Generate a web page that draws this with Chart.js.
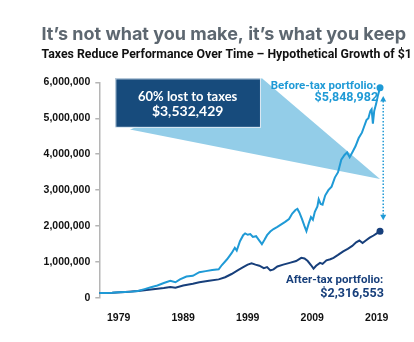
<!DOCTYPE html>
<html>
<head>
<meta charset="utf-8">
<script src="https://cdn.jsdelivr.net/npm/chart.js@4/dist/chart.umd.min.js"></script>
<style>
  html, body { margin: 0; padding: 0; background: #fff; }
</style>
</head>
<body>
<canvas id="taxChart" width="414" height="342"></canvas>
<script>
// values, in millions of dollars
var beforeYears = [1976, 1977, 1978, 1979, 1980, 1981, 1982, 1983, 1984, 1985, 1986, 1987, 1987.8, 1988.5, 1989.5,
  1990.5, 1991.5, 1992.5, 1993.5, 1994.5, 1995, 1995.8, 1996.5, 1997, 1997.3, 1997.8, 1998.3, 1998.6, 1999, 1999.4,
  1999.8, 2000.3, 2000.8, 2001.2, 2001.6, 2002, 2002.5, 2003, 2003.6, 2004.2, 2004.8, 2005.4, 2005.9, 2006.4, 2006.7,
  2007, 2007.4, 2007.8, 2008.1, 2008.5, 2008.8, 2009.1, 2009.4, 2009.8, 2010, 2010.3, 2010.6, 2011, 2011.5, 2012,
  2012.5, 2013, 2013.5, 2014, 2014.4, 2014.8, 2015.2, 2015.7, 2016.2, 2016.7, 2017, 2017.4, 2017.7, 2018, 2018.2,
  2018.4, 2018.6, 2018.9, 2019.2, 2019.5];
var beforeTax = [0.14, 0.145, 0.15, 0.16, 0.17, 0.18, 0.2, 0.25, 0.3, 0.35, 0.42, 0.48, 0.44, 0.52, 0.6,
  0.62, 0.72, 0.75, 0.78, 0.8, 0.92, 1.08, 1.25, 1.4, 1.32, 1.58, 1.75, 1.8, 1.76, 1.78,
  1.7, 1.72, 1.6, 1.5, 1.62, 1.75, 1.85, 1.92, 1.98, 2.05, 2.12, 2.2, 2.35, 2.45, 2.48,
  2.38, 2.2, 2.0, 1.86, 2.1, 2.25, 2.18, 2.4, 2.55, 2.75, 2.62, 2.6, 2.85, 3.0, 3.1,
  3.35, 3.5, 3.85, 3.98, 4.05, 3.92, 4.05, 4.22, 4.45, 4.6, 4.75, 4.95, 5.0, 5.2, 5.25,
  4.85, 5.2, 5.4, 5.65, 5.85];

var afterYears = [1976, 1978, 1980, 1982, 1984, 1986, 1987, 1987.8, 1989, 1990.5, 1991.5, 1993, 1994.5, 1995.5,
  1996.5, 1997.5, 1998.3, 1999, 1999.6, 2000.2, 2000.8, 2001.5, 2002, 2002.5, 2003, 2003.6, 2004.5, 2005.5,
  2006.5, 2007.3, 2007.8, 2008.3, 2008.8, 2009.2, 2009.6, 2010.2, 2010.6, 2011.2, 2011.8, 2012.3, 2013, 2013.8,
  2014.5, 2015.2, 2015.8, 2016.3, 2016.8, 2017.3, 2017.9, 2018.5, 2019, 2019.5];
var afterTax = [0.14, 0.15, 0.17, 0.2, 0.24, 0.28, 0.31, 0.29, 0.35, 0.4, 0.44, 0.48, 0.52, 0.58,
  0.67, 0.78, 0.86, 0.93, 0.97, 0.93, 0.9, 0.83, 0.86, 0.77, 0.8, 0.88, 0.93, 0.98,
  1.03, 1.12, 1.1, 1.03, 0.92, 0.82, 0.9, 0.98, 0.95, 1.05, 1.08, 1.12, 1.2, 1.3,
  1.37, 1.45, 1.55, 1.6, 1.53, 1.6, 1.68, 1.74, 1.8, 1.86];

var tickYears = [1979, 1989, 1999, 2009, 2019];
var titleText = 'It\u2019s not what you make, it\u2019s what you keep';
var subtitleText = 'Taxes Reduce Performance Over Time \u2013 Hypothetical Growth of $1';
var calloutText = ['60% lost to taxes', '$3,532,429'];
var beforeLabel = ['Before-tax portfolio:', '$5,848,982'];
var afterLabel = ['After-tax portfolio:', '$2,316,553'];

var LIGHT = '#1f9ad6';
var DARK = '#173f7b';
var COND = "Roboto, sans-serif";

function toPoints(xs, ys) {
  return xs.map(function(x, i){ return {x: x, y: ys[i] * 1e6}; });
}

function lastDot(c) {
  return c.dataIndex === c.dataset.data.length - 1 ? 3.5 : 0;
}

// heading runs off the right edge like in the source, so no maxWidth squeeze
var headingPlugin = {
  id: 'heading',
  afterDraw: function(chart) {
    var ctx = chart.ctx;
    ctx.save();
    ctx.textAlign = 'left';
    ctx.textBaseline = 'alphabetic';
    ctx.fillStyle = '#5d6770';
    ctx.font = 'bold 18px Inter, sans-serif';
    ctx.fillText(titleText, 41.5, 40);
    ctx.fillStyle = '#111111';
    ctx.font = 'bold 12.3px ' + COND;
    ctx.fillText(subtitleText, 41.5, 57.5);
    ctx.restore();
  }
};

var calloutPlugin = {
  id: 'callout',
  beforeDatasetsDraw: function(chart) {
    var ctx = chart.ctx;
    var px = function(v){ return chart.scales.x.getPixelForValue(v); };
    var py = function(v){ return chart.scales.y.getPixelForValue(v); };
    ctx.save();
    // wedge pointing at the gap between the two lines
    ctx.fillStyle = '#93cde8';
    ctx.beginPath();
    ctx.moveTo(px(1980.76), py(4.685e6));
    ctx.lineTo(px(2001.21), py(6.11e6));
    ctx.lineTo(px(2019.5), py(3.31e6));
    ctx.closePath();
    ctx.fill();

    var x0 = px(1978.48), x1 = px(2000.9), y0 = py(6.11e6), y1 = py(4.76e6);
    ctx.fillStyle = '#174b7c';
    ctx.fillRect(x0, y0, x1 - x0, y1 - y0);
    ctx.strokeStyle = '#dce8f2';
    ctx.lineWidth = 1;
    ctx.strokeRect(x0 + 0.5, y0 + 0.5, x1 - x0, y1 - y0);

    ctx.fillStyle = '#ffffff';
    ctx.textAlign = 'center';
    ctx.textBaseline = 'middle';
    ctx.font = 'bold 13px Lato, "Open Sans", sans-serif';
    ctx.fillText(calloutText[0], (x0 + x1) / 2, y0 + 18);
    ctx.font = 'bold 14px Lato, "Open Sans", sans-serif';
    ctx.fillText(calloutText[1], (x0 + x1) / 2, y0 + 33.5);
    ctx.restore();
  },
  afterDatasetsDraw: function(chart) {
    var ctx = chart.ctx;
    var px = function(v){ return chart.scales.x.getPixelForValue(v); };
    var py = function(v){ return chart.scales.y.getPixelForValue(v); };
    ctx.save();
    // dotted double arrow
    var ax = px(2020.0), top = py(5.617e6), bot = py(2.166e6);
    ctx.strokeStyle = LIGHT;
    ctx.fillStyle = LIGHT;
    ctx.lineWidth = 1.5;
    ctx.setLineDash([1.5, 1.8]);
    ctx.beginPath();
    ctx.moveTo(ax, top + 5);
    ctx.lineTo(ax, bot - 5);
    ctx.stroke();
    ctx.setLineDash([]);
    ctx.beginPath();
    ctx.moveTo(ax, top); ctx.lineTo(ax - 3, top + 5.5); ctx.lineTo(ax + 3, top + 5.5); ctx.closePath();
    ctx.fill();
    ctx.beginPath();
    ctx.moveTo(ax, bot); ctx.lineTo(ax - 3, bot - 5.5); ctx.lineTo(ax + 3, bot - 5.5); ctx.closePath();
    ctx.fill();

    ctx.textAlign = 'right';
    ctx.textBaseline = 'middle';
    ctx.fillStyle = LIGHT;
    ctx.font = 'bold 11.5px ' + COND;
    ctx.fillText(beforeLabel[0], px(2018.92), py(5.905e6));
    ctx.font = 'bold 12.5px ' + COND;
    ctx.fillText(beforeLabel[1], px(2019.2), py(5.57e6));
    ctx.fillStyle = DARK;
    ctx.font = 'bold 11.5px ' + COND;
    ctx.fillText(afterLabel[0], px(2020.0), py(0.487e6));
    ctx.font = 'bold 12.5px ' + COND;
    ctx.fillText(afterLabel[1], px(2020.1), py(0.13e6));
    ctx.restore();
  }
};

new Chart(document.getElementById('taxChart').getContext('2d'), {
  type: 'line',
  data: {
    datasets: [{
      label: 'Before-tax portfolio',
      data: toPoints(beforeYears, beforeTax),
      borderColor: LIGHT,
      backgroundColor: LIGHT,
      borderWidth: 2,
      pointRadius: lastDot,
      pointBorderWidth: 0,
      tension: 0,
      clip: false
    }, {
      label: 'After-tax portfolio',
      data: toPoints(afterYears, afterTax),
      borderColor: DARK,
      backgroundColor: DARK,
      borderWidth: 2,
      pointRadius: lastDot,
      pointBorderWidth: 0,
      tension: 0,
      clip: false
    }]
  },
  options: {
    responsive: false,
    animation: false,
    events: [],
    layout: { padding: { top: 82.3, left: 41, right: 34, bottom: 3.3 } },
    plugins: {
      legend: { display: false },
      tooltip: { enabled: false },
      title: { display: false }
    },
    scales: {
      x: {
        type: 'linear',
        min: 1976,
        max: 2019.5,
        afterBuildTicks: function(s){ s.ticks = tickYears.map(function(v){ return {value: v}; }); },
        grid: { display: false, drawTicks: false },
        border: { display: false },
        ticks: {
          padding: 14,
          color: '#111111',
          font: { family: "'Liberation Sans', Arial, sans-serif", size: 10.5, weight: 'bold' },
          callback: function(v){ return String(v); },
          maxRotation: 0
        }
      },
      y: {
        min: 0,
        max: 6000000,
        afterFit: function(s){ s.width = 58.3; },
        grid: { drawOnChartArea: false, color: '#b5b5b5', tickLength: 4, lineWidth: 1.5 },
        border: { display: true, color: '#b5b5b5', width: 1.5 },
        ticks: {
          stepSize: 1000000,
          padding: 5,
          color: '#111111',
          font: { family: "'Liberation Sans', Arial, sans-serif", size: 10.5, weight: 'bold' },
          callback: function(v){ return v.toLocaleString('en-US'); }
        }
      }
    }
  },
  plugins: [calloutPlugin, headingPlugin]
});
</script>
</body>
</html>
